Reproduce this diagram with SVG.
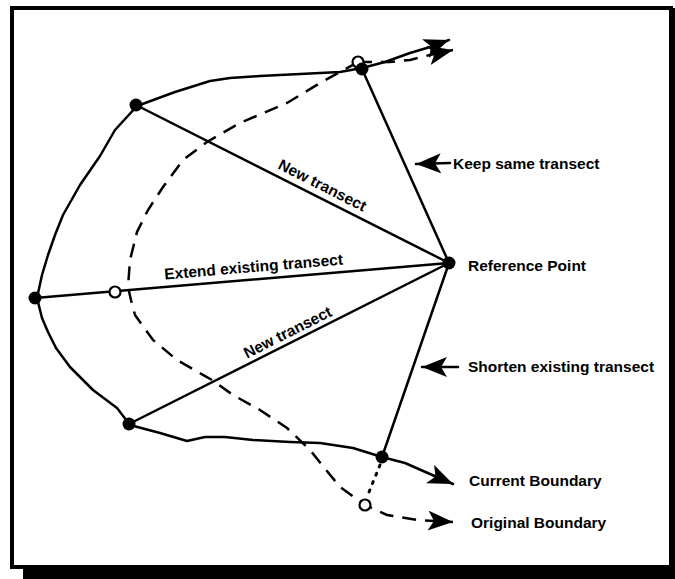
<svg xmlns="http://www.w3.org/2000/svg" width="675" height="579" viewBox="0 0 675 579">
<style>
.ln{fill:none;stroke:#000;stroke-width:2.5;stroke-linejoin:round;stroke-linecap:round}
.ds{fill:none;stroke:#000;stroke-width:2.5;stroke-dasharray:14 9}
.dt{fill:none;stroke:#000;stroke-width:3;stroke-dasharray:2 7;stroke-linecap:round}
.nd{fill:#000}
.ho{fill:#fff;stroke:#000;stroke-width:2.2}
.t{font-family:"Liberation Sans",Arial,sans-serif;font-weight:bold;font-size:15.5px;fill:#000}
</style>
<defs>
<marker id="ah" markerUnits="userSpaceOnUse" markerWidth="28" markerHeight="22" refX="25" refY="10" orient="auto">
<path d="M0,0 L25,10 L0,20 L6,10 z" fill="#000"/>
</marker>
</defs>
<rect width="675" height="579" fill="#fff"/>
<g id="frame">
<rect x="12" y="8" width="659" height="559" fill="none" stroke="#000" stroke-width="4"/>
<rect x="23" y="566" width="652" height="13" fill="#000"/>
<rect x="670" y="8" width="5" height="571" fill="#000"/>
</g>
<g id="connectors">
<line class="ln" x1="449" y1="263" x2="362" y2="69"/>
<line class="ln" x1="449" y1="263" x2="136" y2="105"/>
<line class="ln" x1="449" y1="263" x2="35" y2="298"/>
<line class="ln" x1="449" y1="263" x2="129" y2="424"/>
<line class="ln" x1="449" y1="263" x2="382" y2="457"/>
<path id="current-boundary" class="ln" marker-end="url(#ah)" d="M362,68 L340,72 L300,74 L260,76 L230,78 L210,81 L175,92 L137,106 L115,130 L100,156 L80,185 L63,215 L55,235 L48,255 L42,275 L37,298 L42,318 L48,332 L56,348 L70,367 L93,390 L117,408 L130,425 L160,433 L187,441 L205,437 L225,437 L253,440 L290,442 L320,443 L353,448 L382,457 L405,463 L430,474 L453,484"/>
<path class="ln" marker-end="url(#ah)" d="M362,68 L385,62 L410,53 L430,47 L449,40"/>
<path id="original-boundary" class="ds" marker-end="url(#ah)" d="M358,62 L340,72 L320,83 L287,103 L240,123 L207,142 L183,160 L163,187 L148,210 L137,232 L130,260 L128,287 L131,300 L135,315 L153,340 L177,360 L212,380 L233,395 L260,410 L287,428 L310,450 L322,465 L340,487 L365,505 L387,515 L417,520 L453,522"/>
<path class="ds" marker-end="url(#ah)" d="M358,62 L390,62 L410,60 L430,55 L453,50"/>
<path class="dt" d="M380,465 L367,497"/>
<line class="ln" x1="450" y1="163" x2="416" y2="164" marker-end="url(#ah)"/>
<line class="ln" x1="458" y1="367" x2="422" y2="367" marker-end="url(#ah)"/>
</g>
<g id="hollow-points">
<circle class="ho" cx="358" cy="62" r="5.5"/>
<circle class="ho" cx="115" cy="292" r="5.5"/>
<circle class="ho" cx="365" cy="505" r="5.5"/>
</g>
<g id="node-top"><circle class="nd" cx="362" cy="69" r="6.5"/></g>
<g id="node-topleft"><circle class="nd" cx="136" cy="105" r="6.5"/></g>
<g id="node-left"><circle class="nd" cx="35" cy="298" r="6.5"/></g>
<g id="node-bottomleft"><circle class="nd" cx="129" cy="424" r="6.5"/></g>
<g id="node-bottom"><circle class="nd" cx="382" cy="457" r="6.5"/></g>
<g id="node-reference"><circle class="nd" cx="449" cy="263" r="6.5"/><text class="t" x="468" y="271">Reference Point</text></g>
<g id="labels">
<text class="t" transform="translate(320,190) rotate(26.8)" text-anchor="middle">New transect</text>
<text class="t" transform="translate(254,272) rotate(-4.8)" text-anchor="middle">Extend existing transect</text>
<text class="t" transform="translate(290,337) rotate(-26.7)" text-anchor="middle">New transect</text>
<text class="t" x="453" y="169">Keep same transect</text>
<text class="t" x="468" y="372">Shorten existing transect</text>
<text class="t" x="469" y="486">Current Boundary</text>
<text class="t" x="471" y="528">Original Boundary</text>
</g>
</svg>
